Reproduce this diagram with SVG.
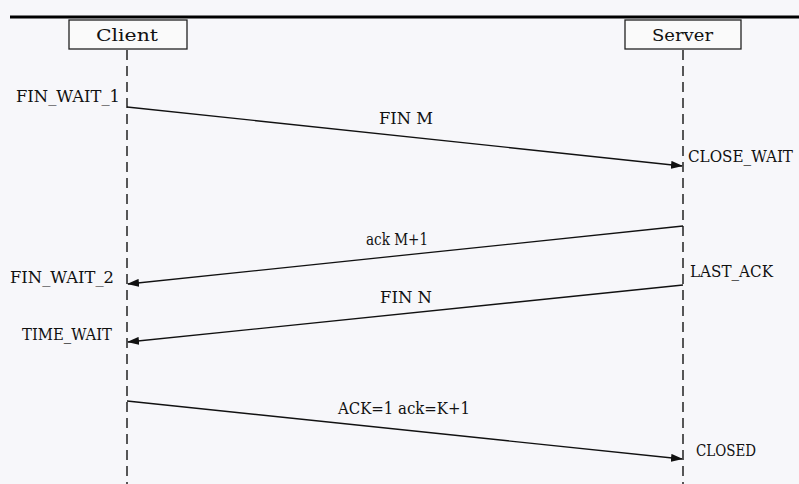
<svg xmlns="http://www.w3.org/2000/svg" width="799" height="484" viewBox="0 0 799 484">
<style>
text{font-family:"DejaVu Serif Condensed","Liberation Serif",serif;font-stretch:condensed;font-size:17.5px;fill:#111}
.box{fill:#fafafa;stroke:#222;stroke-width:1.3}
.life{stroke:#222;stroke-width:1.5;stroke-dasharray:10,6}
.msg{stroke:#111;stroke-width:1.3;fill:none}
</style>
<defs><marker id="a" markerWidth="12" markerHeight="8" refX="11" refY="4" orient="auto" markerUnits="userSpaceOnUse"><path d="M0,0L12,4L0,8z" fill="#111"/></marker></defs>
<rect width="799" height="484" fill="#f7f7fa"/>
<line x1="10" y1="17" x2="799" y2="17" stroke="#000" stroke-width="3"/>
<g id="client"><rect class="box" x="69" y="20" width="118" height="29"/><text x="96" y="41" textLength="62" lengthAdjust="spacingAndGlyphs">Client</text><line class="life" x1="127" y1="50" x2="127" y2="484"/></g>
<g id="server"><rect class="box" x="625" y="20" width="116" height="29"/><text x="652" y="41" textLength="61" lengthAdjust="spacingAndGlyphs">Server</text><line class="life" x1="683" y1="50" x2="683" y2="484"/></g>
<g id="states">
<text x="16" y="102" textLength="104" lengthAdjust="spacingAndGlyphs">FIN_WAIT_1</text>
<text x="688" y="162" textLength="105" lengthAdjust="spacingAndGlyphs">CLOSE_WAIT</text>
<text x="10" y="283" textLength="104" lengthAdjust="spacingAndGlyphs">FIN_WAIT_2</text>
<text x="690" y="277" textLength="83" lengthAdjust="spacingAndGlyphs">LAST_ACK</text>
<text x="22" y="340" textLength="90" lengthAdjust="spacingAndGlyphs">TIME_WAIT</text>
<text x="696" y="456" textLength="60" lengthAdjust="spacingAndGlyphs">CLOSED</text>
</g>
<g id="connectors">
<line class="msg" x1="127" y1="107" x2="682" y2="166" marker-end="url(#a)"/>
<text x="379" y="124" textLength="54" lengthAdjust="spacingAndGlyphs">FIN M</text>
<line class="msg" x1="683" y1="226" x2="128" y2="284" marker-end="url(#a)"/>
<text x="366" y="245" textLength="62" lengthAdjust="spacingAndGlyphs">ack M+1</text>
<line class="msg" x1="683" y1="285" x2="128" y2="342" marker-end="url(#a)"/>
<text x="380" y="303" textLength="52" lengthAdjust="spacingAndGlyphs">FIN N</text>
<line class="msg" x1="127" y1="401" x2="682" y2="459" marker-end="url(#a)"/>
<text x="338" y="414" textLength="132" lengthAdjust="spacingAndGlyphs">ACK=1 ack=K+1</text>
</g>
</svg>
